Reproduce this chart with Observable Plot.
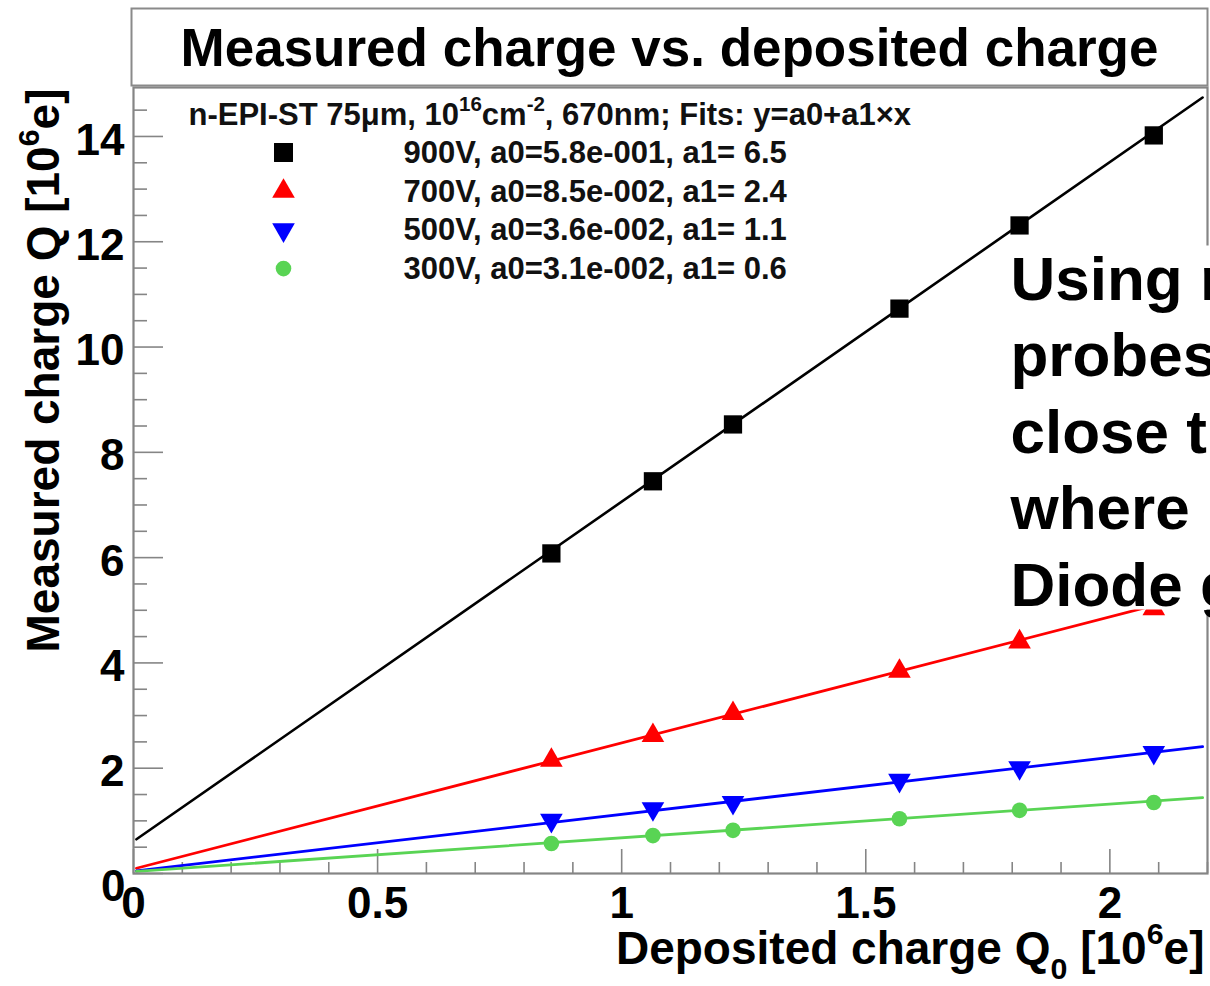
<!DOCTYPE html>
<html>
<head>
<meta charset="utf-8">
<script src="https://cdn.jsdelivr.net/npm/d3@7"></script>
<script src="https://cdn.jsdelivr.net/npm/@observablehq/plot@0.6"></script>
<style>
  html, body { margin: 0; padding: 0; background: #fff; overflow: hidden; width: 1210px; height: 986px; }
  #chart { position: relative; width: 1210px; height: 986px; overflow: hidden; }
  #chart svg { max-width: none !important; }
</style>
</head>
<body>
<div id="chart"></div>
<script>
// ---------------- data ----------------
const depositedQ = [0.856, 1.064, 1.228, 1.569, 1.815, 2.090];
const q900 = [6.08, 7.45, 8.53, 10.73, 12.31, 14.02];
const q700 = [2.15, 2.62, 3.04, 3.84, 4.40, 5.03];
const q500 = [1.01, 1.23, 1.35, 1.77, 2.01, 2.30];
const q300 = [0.57, 0.72, 0.82, 1.04, 1.20, 1.35];

// fit lines: endpoints
const fitRangeX = [0.006, 2.19];
const fit900 = [0.65, 14.74];
const fit700 = [0.10, 5.33];
const fit500 = [0.05, 2.41];
const fit300 = [0.04, 1.44];

const seriesNames = ["900V", "700V", "500V", "300V"];
const seriesColors = ["#000000", "#ff0000", "#0000ff", "#59d454"];
const legendLabels = [
  "900V, a0=5.8e-001, a1= 6.5",
  "700V, a0=8.5e-002, a1= 2.4",
  "500V, a0=3.6e-002, a1= 1.1",
  "300V, a0=3.1e-002, a1= 0.6"
];
const legendHeader = "n-EPI-ST 75\u03bcm, 10^{16}cm^{-2}, 670nm; Fits: y=a0+a1\u00d7x";
const titleText = "Measured charge vs. deposited charge";
const xTitle = "Deposited charge Q_{0} [10^{6}e]";
const yTitle = "Measured charge Q [10^{6}e]";
const noteText = "Using r\nprobes\nclose t\nwhere\nDiode g";

const xMajor = [0, 0.5, 1, 1.5, 2];
const xMajorLabels = ["0", "0.5", "1", "1.5", "2"];
const yMajor = [0, 2, 4, 6, 8, 10, 12, 14];
const yMajorLabels = ["0", "2", "4", "6", "8", "10", "12", "14"];
const xMinor = d3.range(0, 22.5, 1).map(v => v / 10).filter(v => Math.abs(v * 2 - Math.round(v * 2)) > 1e-6);
const yMinor = d3.range(1, 30, 1).map(v => v / 2).filter(v => v % 2 !== 0);

// ---------------- layout ----------------
const W = 1210, H = 986;
const mL = 133, mR = 3, mT = 87, mB = 113;
const plotW = W - mL - mR, plotH = H - mT - mB;
const font = '"Liberation Sans", Arial, Helvetica, sans-serif';
const axisGray = "#858585";

const pts = (ys, name) => depositedQ.map((x, i) => ({x, y: ys[i], s: name}));
const fit = (ends, name) => fitRangeX.map((x, i) => ({x, y: ends[i], s: name}));

const p900 = pts(q900, "900V"), p700 = pts(q700, "700V"), p500 = pts(q500, "500V"), p300 = pts(q300, "300V");
const f900 = fit(fit900, "900V"), f700 = fit(fit700, "700V"), f500 = fit(fit500, "500V"), f300 = fit(fit300, "300V");

const symbols = [
  {symbol: "square", r: 10.3, rotate: 0},
  {symbol: "triangle", r: 8.4, rotate: 0},
  {symbol: "triangle", r: 8.4, rotate: 180},
  {symbol: "circle", r: 7.8, rotate: 0}
];

const legendMarks = [];
seriesNames.forEach((name, i) => {
  const rowY = 65 + i * 38.7;
  legendMarks.push(Plot.dot([name], {
    frameAnchor: "top-left", dx: 150, dy: rowY,
    symbol: symbols[i].symbol, r: symbols[i].r + (i === 0 ? 0.4 : 0), rotate: symbols[i].rotate,
    fill: seriesColors[i], stroke: "none"
  }));
  legendMarks.push(Plot.text([legendLabels[i]], {
    frameAnchor: "top-left", dx: 270, dy: rowY + 10.5,
    textAnchor: "start", lineAnchor: "bottom",
    fontSize: 31, fontWeight: "bold", fill: "#111"
  }));
});

const plot = Plot.plot({
  width: W, height: H,
  marginLeft: mL, marginRight: mR, marginTop: mT, marginBottom: mB,
  x: {domain: [0, 2.2], axis: null},
  y: {domain: [0, 14.93], axis: null},
  style: {fontFamily: font, background: "white", color: "#000"},
  marks: [
    // ticks (drawn inside the frame, ROOT style)
    Plot.tickX(xMinor, {x: d => d, stroke: axisGray, strokeWidth: 1.6, insetTop: plotH - 11}),
    Plot.tickX(xMajor, {x: d => d, stroke: axisGray, strokeWidth: 1.6, insetTop: plotH - 24}),
    Plot.tickY(yMinor, {y: d => d, stroke: axisGray, strokeWidth: 1.6, insetRight: plotW - 14}),
    Plot.tickY(yMajor, {y: d => d, stroke: axisGray, strokeWidth: 1.6, insetRight: plotW - 30}),
    // fit lines
    Plot.line(f900, {x: "x", y: "y", stroke: seriesColors[0], strokeWidth: 2.6}),
    Plot.line(f700, {x: "x", y: "y", stroke: seriesColors[1], strokeWidth: 2.8}),
    Plot.line(f500, {x: "x", y: "y", stroke: seriesColors[2], strokeWidth: 2.8}),
    Plot.line(f300, {x: "x", y: "y", stroke: seriesColors[3], strokeWidth: 2.8}),
    // data points
    Plot.dot(p900, {x: "x", y: "y", symbol: "square", r: symbols[0].r, fill: seriesColors[0], stroke: "none"}),
    Plot.dot(p700, {x: "x", y: "y", symbol: "triangle", r: symbols[1].r, fill: seriesColors[1], stroke: "none"}),
    Plot.dot(p500, {x: "x", y: "y", symbol: "triangle", rotate: 180, r: symbols[2].r, fill: seriesColors[2], stroke: "none"}),
    Plot.dot(p300, {x: "x", y: "y", symbol: "circle", r: symbols[3].r, fill: seriesColors[3], stroke: "none"}),
    // plot frame
    Plot.frame({stroke: axisGray, strokeWidth: 2.2}),
    // tick labels
    Plot.text(xMajor, {x: d => d, text: (d, i) => xMajorLabels[i], frameAnchor: "bottom", dy: 30,
      lineAnchor: "middle", fontSize: 44, fontWeight: "bold", fill: "#000"}),
    Plot.text(yMajor.slice(1), {y: d => d, text: (d, i) => yMajorLabels[i + 1], frameAnchor: "left", dx: -9, dy: 4,
      textAnchor: "end", lineAnchor: "middle", fontSize: 44, fontWeight: "bold", fill: "#000"}),
    Plot.text(yMajor.slice(0, 1), {y: d => d, text: (d, i) => yMajorLabels[i], frameAnchor: "left", dx: -8, dy: 13,
      textAnchor: "end", lineAnchor: "middle", fontSize: 44, fontWeight: "bold", fill: "#000"}),
    // axis titles
    Plot.text([xTitle], {frameAnchor: "bottom-right", dx: -3, dy: 90, textAnchor: "end", lineAnchor: "bottom",
      fontSize: 46, fontWeight: "bold", fill: "#000"}),
    Plot.text([yTitle], {frameAnchor: "top-left", dx: -75, dy: 1, rotate: -90, textAnchor: "end", lineAnchor: "bottom",
      fontSize: 46, fontWeight: "bold", fill: "#000"}),
    // legend
    Plot.text([legendHeader], {frameAnchor: "top-left", dx: 55, dy: 37, textAnchor: "start", lineAnchor: "bottom",
      fontSize: 31, fontWeight: "bold", fill: "#111"}),
    ...legendMarks,
    // title box + title
    Plot.frame({fill: "white", stroke: "#8a8a8a", strokeWidth: 2, insetTop: -79, insetBottom: plotH + 2, insetLeft: -2, insetRight: 0}),
    Plot.text([titleText], {frameAnchor: "top", dx: -1, dy: -22, lineAnchor: "bottom",
      fontSize: 53, fontWeight: "bold", fill: "#000"}),
    // white annotation box and its text
    Plot.frame({fill: "white", stroke: "none", insetLeft: 870, insetRight: -3, insetTop: 158, insetBottom: 264}),
    Plot.text([noteText], {frameAnchor: "top-left", dx: 877, dy: 158, textAnchor: "start", lineAnchor: "top",
      lineHeight: 1.233, fontSize: 62, fontWeight: "bold", fill: "#000"})
  ]
});

document.getElementById("chart").appendChild(plot);

// rich text: ^{...} superscripts and _{...} subscripts
function richText(svg) {
  svg.querySelectorAll("text").forEach(el => {
    const s = el.textContent;
    if (!/[\^_]\{/.test(s) || el.querySelector("tspan")) return;
    const fs = parseFloat(getComputedStyle(el).fontSize) || 16;
    while (el.firstChild) el.removeChild(el.firstChild);
    const re = /(\^|_)\{([^}]*)\}/g;
    let last = 0, m, shift = 0;
    const add = (txt, kind) => {
      const t = document.createElementNS("http://www.w3.org/2000/svg", "tspan");
      const target = kind === "^" ? -0.42 * fs : kind === "_" ? 0.33 * fs : 0;
      t.setAttribute("dy", target - shift);
      shift = target;
      if (kind) t.setAttribute("font-size", (0.66 * fs).toFixed(1));
      t.textContent = txt;
      el.appendChild(t);
    };
    while ((m = re.exec(s))) {
      if (m.index > last) add(s.slice(last, m.index), null);
      add(m[2], m[1]);
      last = re.lastIndex;
    }
    if (last < s.length) add(s.slice(last), null);
  });
}
richText(plot);
</script>
</body>
</html>
